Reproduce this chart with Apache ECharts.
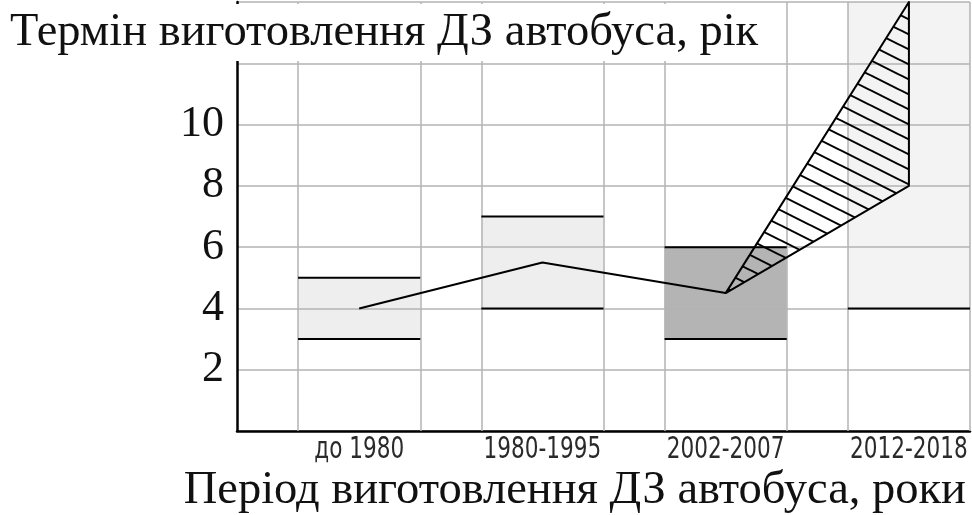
<!DOCTYPE html>
<html>
<head>
<meta charset="utf-8">
<script src="https://cdn.jsdelivr.net/npm/echarts@6/dist/echarts.min.js"></script>
<style>
html,body{margin:0;padding:0;background:#fff;overflow:hidden;}
#chart{width:972px;height:515px;}
</style>
</head>
<body>
<div id="chart"></div>
<script>
// ---- data ----
var categories = ['до 1980', '1980-1995', '2002-2007', '2012-2018'];
var rangeLow  = [3, 4, 3, 4];
var rangeHigh = [5, 7, 6, 15];       // last range is open upward
var trendX = [2, 5, 8];              // category centres of the trend line
var trendY = [4, 5.5, 4.5];
var forecastX = [8, 11, 11];
var forecastY = [4.5, 8, 14];
var yTicks = [2, 4, 6, 8, 10];
var yTitle = 'Термін виготовлення ДЗ автобуса, рік';
var xTitle = 'Період виготовлення ДЗ автобуса, роки';

// ---- styles ----
var fills = ['#eeeeee', '#eeeeee', '#b4b4b4', '#f3f3f3'];
var gridColor = '#b3b3b3';

function slotStart(i) { return i * 3 + 1; }
function slotEnd(i) { return i * 3 + 3; }
function slotCenter(i) { return i * 3 + 2; }

var vLines = [];
categories.forEach(function (c, i) {
  vLines.push({ xAxis: slotStart(i) });
  vLines.push({ xAxis: slotEnd(i) });
});

// hatch pattern
var pat = document.createElement('canvas');
pat.width = 30; pat.height = 15;
var pc = pat.getContext('2d');
pc.strokeStyle = '#000';
pc.lineWidth = 2;
for (var k = -1; k <= 1; k++) {
  pc.beginPath();
  pc.moveTo(-2, k * 15 - 1);
  pc.lineTo(32, k * 15 + 16);
  pc.stroke();
}

var boxData = categories.map(function (c, i) { return [i, rangeLow[i], rangeHigh[i]]; });
var labelData = categories.map(function (c, i) { return [i]; });

var chart = echarts.init(document.getElementById('chart'), null, { renderer: 'canvas' });
chart.setOption({
  animation: false,
  backgroundColor: '#ffffff',
  title: [{
    text: yTitle,
    left: 0, top: 4,
    padding: [4, 12, 4, 10],
    backgroundColor: '#ffffff',
    textStyle: { fontFamily: 'Liberation Serif', fontSize: 46.5, fontWeight: 'normal', color: '#111', lineHeight: 49 }
  }, {
    text: xTitle,
    right: 6, top: 466,
    padding: 0,
    textStyle: { fontFamily: 'Liberation Serif', fontSize: 46.5, fontWeight: 'normal', color: '#111', lineHeight: 49 }
  }],
  grid: { left: 237, right: 2, top: 2, bottom: 84, containLabel: false },
  xAxis: {
    type: 'value', min: 0, max: 12, interval: 1, z: 4,
    axisLine: { show: true, lineStyle: { color: '#000', width: 2.5 } },
    axisTick: { show: false },
    splitLine: { show: false },
    axisLabel: { show: false }
  },
  yAxis: {
    type: 'value', min: 0, max: 14, interval: 2, z: 3,
    axisLine: { show: true, lineStyle: { color: '#000', width: 2.5 } },
    axisTick: { show: false },
    splitLine: { show: true, lineStyle: { color: gridColor, width: 1.5 } },
    axisLabel: {
      margin: 13,
      fontFamily: 'Liberation Serif', fontSize: 44, color: '#111',
      formatter: function (v) { return yTicks.indexOf(v) >= 0 ? String(v) : ''; }
    }
  },
  series: [{
    // range fills
    type: 'custom', z: 1, clip: true, silent: true,
    data: boxData,
    renderItem: function (params, api) {
      var i = api.value(0);
      var p0 = api.coord([slotStart(i), api.value(2)]);
      var p1 = api.coord([slotEnd(i), api.value(1)]);
      var cs = params.coordSys;
      var top = Math.max(p0[1], cs.y);
      return {
        type: 'rect',
        shape: { x: p0[0], y: top, width: p1[0] - p0[0], height: p1[1] - top },
        style: { fill: fills[i] }
      };
    }
  }, {
    // vertical grid lines at range edges
    type: 'custom', z: 2, silent: true,
    data: [],
    renderItem: function () { return null; },
    markLine: {
      silent: true, symbol: 'none', label: { show: false },
      lineStyle: { color: gridColor, width: 1.5, type: 'solid' },
      data: vLines
    }
  }, {
    // range limit lines
    type: 'custom', z: 5, silent: true,
    data: boxData,
    renderItem: function (params, api) {
      var i = api.value(0);
      var p0 = api.coord([slotStart(i), api.value(2)]);
      var p1 = api.coord([slotEnd(i), api.value(1)]);
      var cs = params.coordSys;
      var children = [{
        type: 'line',
        shape: { x1: p0[0], y1: p1[1], x2: p1[0], y2: p1[1] },
        style: { stroke: '#000', lineWidth: 2 }
      }];
      if (p0[1] >= cs.y) {
        children.push({
          type: 'line',
          shape: { x1: p0[0], y1: p0[1], x2: p1[0], y2: p0[1] },
          style: { stroke: '#000', lineWidth: 2 }
        });
      }
      return { type: 'group', children: children };
    }
  }, {
    // category labels under the axis
    type: 'custom', z: 5, silent: true, clip: false,
    data: labelData,
    renderItem: function (params, api) {
      var i = api.value(0);
      var p = api.coord([slotCenter(i), 0]);
      return {
        type: 'text',
        x: p[0], y: p[1] + 19,
        scaleX: 0.8,
        style: {
          text: categories[i],
          fontFamily: "'DejaVu Sans Condensed', 'DejaVu Sans', sans-serif",
          fontSize: 30, fill: '#2a2a2a',
          align: 'center', verticalAlign: 'middle'
        }
      };
    }
  }, {
    type: 'line', z: 6, silent: true,
    data: trendX.map(function (x, i) { return [x, trendY[i]]; }),
    symbol: 'none',
    lineStyle: { color: '#000', width: 2 }
  }, {
    type: 'custom', z: 7, silent: true,
    data: [0],
    renderItem: function (params, api) {
      var pts = forecastX.map(function (x, i) { return api.coord([x, forecastY[i]]); });
      return {
        type: 'polygon',
        shape: { points: pts },
        style: { fill: { image: pat, repeat: 'repeat' }, stroke: '#000', lineWidth: 2, lineJoin: 'round' }
      };
    }
  }]
});
</script>
</body>
</html>
